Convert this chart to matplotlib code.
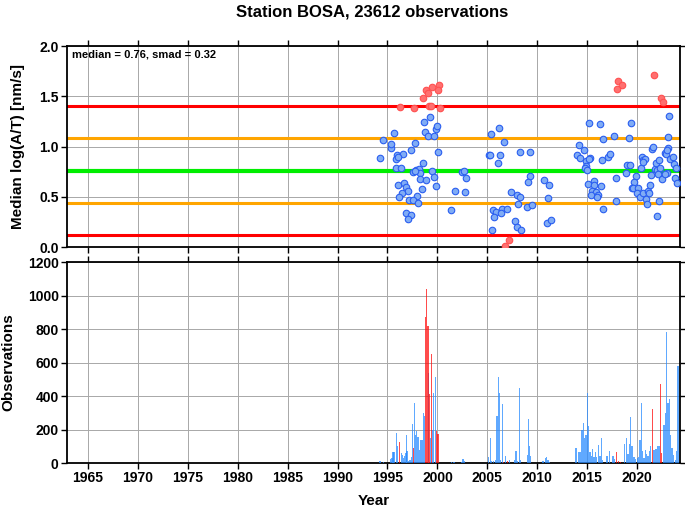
import matplotlib
matplotlib.use("Agg")
import matplotlib.pyplot as plt

plt.rcParams['font.family'] = ['Liberation Sans', 'DejaVu Sans']
plt.rcParams['font.weight'] = 'bold'

title = "Station BOSA, 23612 observations"
median = 0.76
smad = 0.32

# Scatter: median log(A/T) per period (in range: blue, outliers: red)
blue_years = [1994.25, 1994.6, 1995.35, 1995.4, 1995.65, 1996.0, 1995.85, 1996.35,
              1996.6, 1997.4, 1997.8, 1998.7, 1999.3, 1998.8, 1999.05, 1999.7, 1999.85,
              2000.0, 2000.05, 1995.9, 1996.1, 1998.55, 1997.6, 1997.85, 1998.15, 1998.25,
              1997.75, 1999.5, 1999.65, 1998.3, 1998.9, 1998.5, 1999.9, 1996.1, 1996.7,
              1996.9, 1997.1, 1996.45, 1996.2, 1997.95, 1997.2, 1997.6, 1998.05, 1996.85,
              1997.4, 1997.05, 2001.75, 2002.5, 2002.7, 2002.9, 2002.8, 2001.4,
              2005.15, 2005.4, 2006.2, 2006.65, 2005.25, 2006.3, 2006.05, 2008.3, 2009.25,
              2009.3, 2009.1, 2010.7, 2011.2, 2007.4, 2008.0, 2008.25, 2008.1, 2008.95,
              2009.45, 2011.1, 2005.6, 2005.9, 2006.5, 2006.95, 2006.4, 2005.7, 2005.45,
              2007.8, 2007.95, 2008.4, 2011.0, 2011.4,
              2015.15, 2016.25, 2019.4, 2023.2, 2016.6, 2017.65, 2019.2, 2023.1, 2014.2,
              2014.65, 2014.0, 2014.3, 2014.9, 2015.3, 2015.2, 2014.85, 2014.8, 2015.0,
              2016.5, 2017.1, 2017.3, 2019.0, 2019.3, 2018.9, 2017.9, 2019.9, 2019.7,
              2015.1, 2015.7, 2015.65, 2016.4, 2015.5, 2015.9, 2015.4, 2016.1, 2016.0,
              2016.6, 2017.85, 2020.45, 2020.55, 2020.4, 2020.8, 2020.55, 2021.5, 2021.6,
              2019.45, 2019.6, 2020.1, 2019.95, 2020.25, 2020.55, 2020.9, 2021.0, 2021.05,
              2021.2, 2021.3, 2021.4, 2021.75, 2021.9, 2022.15, 2022.0, 2022.25, 2022.1,
              2022.2, 2022.0, 2022.5, 2022.8, 2022.85, 2023.1, 2023.0, 2023.3, 2023.6,
              2023.7, 2023.85, 2023.75, 2024.0, 2023.0, 2022.75]
blue_vals = [0.89, 1.065, 0.985, 1.025, 1.13, 0.915, 0.79, 0.79,
             0.925, 0.97, 1.035, 1.247, 1.297, 1.144, 1.10, 1.108, 1.17,
             1.20, 0.945, 0.88, 0.90, 0.84, 0.746, 0.766, 0.773, 0.74,
             0.756, 0.756, 0.70, 0.68, 0.67, 0.577, 0.61, 0.62, 0.64,
             0.597, 0.56, 0.54, 0.50, 0.51, 0.47, 0.47, 0.435, 0.335,
             0.315, 0.28, 0.56, 0.743, 0.756, 0.69, 0.55, 0.37,
             0.915, 1.12, 1.18, 1.04, 0.92, 0.92, 0.84, 0.95, 0.95,
             0.71, 0.65, 0.67, 0.62, 0.55, 0.52, 0.50, 0.43, 0.395,
             0.42, 0.485, 0.37, 0.35, 0.38, 0.38, 0.34, 0.295, 0.17,
             0.26, 0.20, 0.166, 0.24, 0.27,
             1.237, 1.22, 1.237, 1.306, 1.07, 1.105, 1.085, 1.095, 1.015,
             0.962, 0.92, 0.89, 0.86, 0.89, 0.88, 0.806, 0.79, 0.77,
             0.87, 0.90, 0.93, 0.82, 0.82, 0.74, 0.69, 0.71, 0.65,
             0.627, 0.66, 0.62, 0.607, 0.56, 0.55, 0.514, 0.52, 0.50,
             0.38, 0.457, 0.90, 0.87, 0.79, 0.875, 0.85, 0.98, 1.0,
             0.584, 0.584, 0.584, 0.54, 0.50, 0.534, 0.475, 0.43, 0.557,
             0.54, 0.617, 0.72, 0.78, 0.84, 0.87, 0.766, 0.786, 0.73,
             0.457, 0.31, 0.68, 0.94, 0.925, 0.99, 0.965, 0.88, 0.895,
             0.826, 0.783, 0.683, 0.634, 0.733, 0.723]
red_years = [1996.25, 1997.7, 1998.6, 1998.9, 1999.1, 1999.5, 1999.2, 1999.35,
             2000.2, 2000.1, 2000.3, 2007.2, 2006.75, 2018.1, 2018.45, 2018.0,
             2021.7, 2022.4, 2022.6]
red_vals = [1.396, 1.38, 1.486, 1.56, 1.53, 1.59, 1.40, 1.40,
            1.61, 1.56, 1.38, 0.067, 0.01, 1.655, 1.615, 1.57,
            1.715, 1.48, 1.44]

# Histogram of observations per period
obs_blue_years = [1994.25, 1994.6, 1995.3, 1995.45, 1995.55, 1995.65, 1995.9, 1996.0,
                  1996.4, 1996.5, 1996.6, 1996.7, 1996.85, 1996.9, 1996.95, 1997.1,
                  1997.25, 1997.4, 1997.5, 1997.7, 1997.8, 1997.9, 1998.05, 1998.2,
                  1998.3, 1998.45, 1998.6, 1998.7, 1999.1, 1999.3, 1999.5, 1999.6,
                  1999.8, 2001.4, 2001.65, 2002.4, 2002.55, 2002.7,
                  2005.1, 2005.3, 2005.4, 2005.6, 2005.8, 2005.95, 2006.1, 2006.2,
                  2006.3, 2006.5, 2006.8, 2007.2, 2007.7, 2007.85, 2008.0, 2008.2,
                  2008.3, 2009.0, 2009.1, 2009.2, 2009.3, 2010.55, 2010.8, 2010.9,
                  2011.05, 2011.2,
                  2013.87, 2014.13, 2014.27, 2014.47, 2014.6, 2014.73, 2014.87, 2015.0,
                  2015.13, 2015.27, 2015.4, 2015.53, 2015.67, 2015.8, 2015.93, 2016.13,
                  2016.27, 2016.4, 2016.53, 2016.97, 2017.2, 2017.57, 2017.73, 2018.73,
                  2018.93, 2019.07, 2019.2, 2019.33, 2019.47, 2019.67, 2019.8, 2020.0,
                  2020.13, 2020.27, 2020.4, 2020.53, 2020.67, 2020.8, 2020.93, 2021.07,
                  2021.2, 2021.33, 2021.67, 2021.87, 2022.07, 2022.2, 2022.67, 2022.8,
                  2022.93, 2023.07, 2023.2, 2023.33, 2023.47, 2023.6, 2023.8, 2023.93,
                  2024.05]
obs_blue = [10, 8, 24, 28, 64, 68, 180, 100,
            60, 50, 30, 40, 60, 166, 70, 10,
            20, 34, 230, 360, 166, 190, 156, 80,
            136, 136, 300, 280, 540, 150, 200, 416,
            516, 6, 8, 8, 26, 10,
            36, 148, 10, 10, 20, 280, 516, 416,
            20, 350, 40, 16, 16, 72, 14, 448,
            16, 48, 264, 100, 40, 10, 28, 36,
            20, 8,
            90, 66, 64, 200, 236, 150, 170, 416,
            220, 64, 40, 84, 36, 64, 36, 110,
            40, 150, 20, 40, 70, 44, 24, 116,
            150, 56, 116, 276, 104, 36, 24, 32,
            36, 140, 360, 70, 30, 80, 56, 40,
            70, 104, 80, 84, 104, 100, 224, 296,
            784, 360, 384, 170, 90, 50, 20, 70,
            580]
obs_red_years = [1996.2, 1997.6, 1998.8, 1998.9, 1999.05, 1999.2, 1999.4, 1999.9,
                 2000.05, 2006.6, 2007.0, 2017.93, 2018.13, 2018.33, 2021.53, 2022.3,
                 2022.43]
obs_red = [124, 88, 870, 1040, 816, 410, 650, 194,
           174, 6, 10, 66, 10, 8, 320, 470,
           60]

year_ticks = list(range(1965, 2021, 5))

fig = plt.figure(figsize=(6.85, 5.11), dpi=100)
L, R = 67 / 685, 680 / 685
ax1 = fig.add_axes([L, 1 - 247 / 511, R - L, (247 - 46) / 511])
ax2 = fig.add_axes([L, 1 - 463 / 511, R - L, (463 - 262) / 511])

xmin, xmax = 1962.93, 2024.27
for ax in (ax1, ax2):
    ax.set_xlim(xmin, xmax)
    ax.set_xticks(year_ticks)
    ax.grid(True, color='#a8a8a8', linewidth=0.7)
    ax.set_axisbelow(True)
    ax.tick_params(direction='out', length=4, width=1, top=True, right=True,
                   labelsize=10, pad=2)
    for s in ax.spines.values():
        s.set_linewidth(1.3)
    for lab in ax.get_xticklabels() + ax.get_yticklabels():
        lab.set_fontweight('bold')

# Top panel
ax1.set_ylim(0, 2.0)
ax1.set_yticks([0.0, 0.5, 1.0, 1.5, 2.0])
ax1.set_yticklabels(['0.0', '0.5', '1.0', '1.5', '2.0'], fontweight='bold')
ax1.tick_params(labelbottom=False)
ax1.axhline(median + 2 * smad, color='#ff0000', lw=2.2, zorder=2)
ax1.axhline(median - 2 * smad, color='#ff0000', lw=2.2, zorder=2)
ax1.axhline(median + smad, color='#ffa500', lw=2.2, zorder=2)
ax1.axhline(median - smad, color='#ffa500', lw=2.2, zorder=2)
ax1.axhline(median, color='#00ee00', lw=3.0, zorder=2)
ax1.scatter(blue_years, blue_vals, s=22, facecolor='#80acf5', edgecolor='#2a5ef0',
            linewidth=0.8, zorder=3)
ax1.scatter(red_years, red_vals, s=22, facecolor='#ff7070', edgecolor='#ff5050',
            linewidth=0.8, zorder=3)
ax1.text(0.008, 0.985, f"median = {median:.2f}, smad = {smad:.2f}", transform=ax1.transAxes,
         ha='left', va='top', fontsize=8, fontweight='bold')
ax1.set_ylabel("Median log(A/T) [nm/s]", fontsize=11, fontweight='bold')
ax1.yaxis.set_label_coords(-0.068, 0.5)

# Bottom panel
ax2.bar(obs_blue_years, obs_blue, width=0.15, color='#2b8cff', alpha=0.75, linewidth=0, zorder=3)
ax2.bar(obs_red_years, obs_red, width=0.15, color='#ff1010', alpha=0.75, linewidth=0, zorder=3)
ax2.set_ylim(0, 1200)
ax2.set_yticks(range(0, 1201, 200))
ax2.set_xticklabels([str(y) for y in year_ticks], fontweight='bold')
ax2.set_ylabel("Observations", fontsize=11, fontweight='bold')
ax2.yaxis.set_label_coords(-0.085, 0.5)
ax2.set_xlabel("Year", fontsize=11, fontweight='bold')
ax2.xaxis.set_label_coords(0.5, -0.155)

fig.text(372 / 685, 1 - 12 / 511, title, ha='center', va='center', fontsize=12,
         fontweight='bold')

fig.savefig("out.png", dpi=100)
